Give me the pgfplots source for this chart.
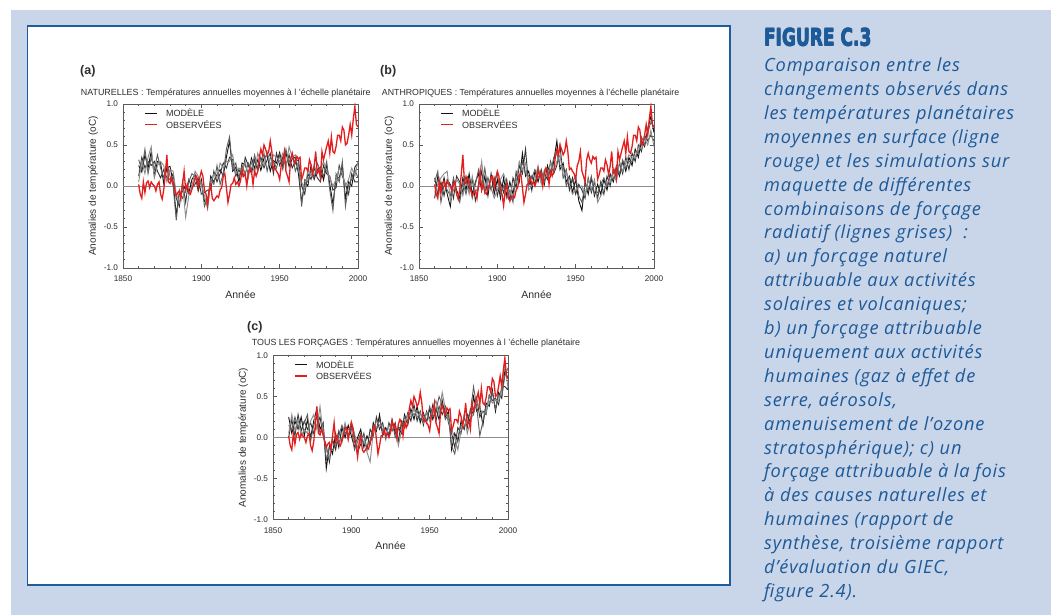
\documentclass[border=0pt]{standalone}
\usepackage{fontspec}
\setmainfont{Liberation Sans}
\newfontfamily\capfont{Open Sans}[LetterSpace=4.5]
\newfontfamily\figfont{DejaVu Sans}
\usepackage{graphicx}
\usepackage{pgfplots}
\pgfplotsset{compat=1.18}
\usepackage{pgfplotstable}

\definecolor{bgblue}{HTML}{C9D5E9}
\definecolor{frameblue}{HTML}{1F5C9E}
\definecolor{capblue}{HTML}{1D5A98}
\definecolor{obsred}{HTML}{E41E1E}
\definecolor{axgray}{HTML}{5A5A5A}
\definecolor{labgray}{HTML}{2E2E2E}
\definecolor{runA}{HTML}{111111}
\definecolor{runB}{HTML}{333333}
\definecolor{runC}{HTML}{5E5E5E}
\definecolor{runD}{HTML}{8A8A8A}

% observed annual anomalies (red line, same in the three panels)
\pgfplotstableread{
year val
1860 0.02
1861 -0.10
1862 -0.15
1863 0.05
1864 -0.08
1865 0.04
1866 0.06
1867 -0.02
1868 0.05
1869 0.02
1870 0.00
1871 -0.06
1872 0.02
1873 0.05
1874 -0.10
1875 -0.16
1876 -0.05
1877 0.15
1878 0.38
1879 0.05
1880 0.03
1881 0.10
1882 0.04
1883 -0.05
1884 -0.12
1885 -0.08
1886 -0.06
1887 -0.15
1888 0.02
1889 0.18
1890 -0.05
1891 0.02
1892 -0.08
1893 -0.10
1894 -0.04
1895 0.02
1896 0.10
1897 0.12
1898 -0.02
1899 0.10
1900 0.18
1901 0.12
1902 -0.05
1903 -0.10
1904 -0.24
1905 -0.06
1906 0.02
1907 -0.15
1908 -0.18
1909 -0.15
1910 -0.12
1911 -0.14
1912 -0.05
1913 -0.02
1914 0.12
1915 0.15
1916 -0.02
1917 -0.20
1918 -0.10
1919 0.02
1920 0.03
1921 0.10
1922 0.02
1923 0.05
1924 0.00
1925 0.06
1926 0.20
1927 0.12
1928 0.15
1929 0.00
1930 0.16
1931 0.22
1932 0.18
1933 0.02
1934 0.18
1935 0.12
1936 0.18
1937 0.35
1938 0.45
1939 0.38
1940 0.50
1941 0.45
1942 0.38
1943 0.42
1944 0.55
1945 0.42
1946 0.20
1947 0.22
1948 0.18
1949 0.15
1950 0.08
1951 0.25
1952 0.30
1953 0.42
1954 0.18
1955 0.12
1956 0.05
1957 0.32
1958 0.40
1959 0.32
1960 0.28
1961 0.36
1962 0.33
1963 0.35
1964 0.08
1965 0.14
1966 0.22
1967 0.22
1968 0.18
1969 0.32
1970 0.26
1971 0.14
1972 0.24
1973 0.42
1974 0.16
1975 0.20
1976 0.10
1977 0.42
1978 0.32
1979 0.40
1980 0.48
1981 0.55
1982 0.40
1983 0.60
1984 0.42
1985 0.40
1986 0.48
1987 0.62
1988 0.62
1989 0.55
1990 0.72
1991 0.68
1992 0.50
1993 0.52
1994 0.62
1995 0.75
1996 0.62
1997 0.82
1998 0.97
1999 0.75
2000 0.72
}\obs

% model runs, natural forcing
\pgfplotstableread{
year r1 r2 r3 r4
1860 0.25 0.12 0.32 0.05
1862 0.17 0.35 0.20 0.30
1864 0.38 0.22 0.45 0.15
1866 0.22 0.30 0.15 0.35
1868 0.42 0.25 0.35 0.48
1870 0.12 0.30 0.20 0.10
1872 0.30 0.18 0.38 0.25
1874 0.28 0.10 0.22 0.30
1876 0.03 0.20 0.10 0.25
1878 0.22 0.10 0.28 0.05
1880 0.24 0.08 0.12 0.20
1882 0.04 0.15 0.00 0.18
1884 -0.35 -0.15 -0.42 -0.10
1886 -0.08 -0.25 -0.05 -0.20
1888 -0.07 0.05 -0.15 0.02
1890 0.01 -0.20 -0.05 -0.38
1892 -0.09 0.08 0.05 -0.12
1894 0.08 -0.02 0.15 0.00
1896 0.14 0.02 0.12 0.18
1898 -0.06 0.10 0.00 0.12
1900 0.08 -0.10 0.05 0.02
1902 -0.19 -0.08 -0.25 -0.12
1904 -0.22 -0.05 -0.15 -0.28
1906 0.12 -0.05 0.08 0.05
1908 0.05 0.18 0.02 0.15
1910 0.14 0.05 0.25 0.10
1912 0.20 0.15 0.02 0.28
1914 0.12 0.28 0.15 0.22
1916 0.35 0.22 0.45 0.30
1918 0.55 0.35 0.60 0.30
1920 0.18 0.32 0.20 0.38
1922 0.23 0.12 0.28 0.15
1924 0.05 0.20 0.10 0.22
1926 0.28 0.12 0.25 0.18
1928 0.26 0.35 0.15 0.30
1930 0.14 0.25 0.28 0.10
1932 0.34 0.15 0.20 0.30
1934 0.22 0.32 0.38 0.15
1936 0.32 0.18 0.22 0.40
1938 0.19 0.35 0.25 0.30
1940 0.34 0.22 0.40 0.25
1942 0.38 0.32 0.18 0.42
1944 0.18 0.40 0.35 0.25
1946 0.31 0.15 0.30 0.38
1948 0.28 0.40 0.22 0.35
1950 0.41 0.25 0.38 0.30
1952 0.23 0.35 0.20 0.40
1954 0.41 0.25 0.45 0.22
1956 0.24 0.38 0.28 0.48
1958 0.33 0.22 0.40 0.35
1960 0.35 0.30 0.18 0.38
1962 0.15 0.32 0.28 0.20
1964 -0.20 0.00 -0.25 0.05
1966 0.05 -0.10 0.08 -0.05
1968 0.00 0.15 0.05 0.20
1970 0.25 0.08 0.20 0.12
1972 0.08 0.22 0.10 0.25
1974 0.20 0.10 0.28 0.15
1976 0.23 0.05 0.18 0.20
1978 0.07 0.25 0.12 0.30
1980 0.26 0.15 0.30 0.18
1982 0.02 0.12 -0.05 0.10
1984 -0.22 -0.05 -0.30 0.00
1986 0.10 -0.02 0.15 0.08
1988 0.10 0.25 0.05 0.22
1990 0.25 0.12 0.30 0.15
1992 -0.15 0.02 -0.25 0.00
1994 0.05 -0.10 0.02 0.08
1996 0.00 0.15 0.08 0.22
1998 0.23 0.05 0.20 0.12
2000 0.28 0.05 0.10 0.30
}\nat

% model runs, anthropogenic forcing
\pgfplotstableread{
year r1 r2 r3 r4
1860 -0.15 0.10 0.05 -0.08
1862 0.12 -0.10 0.18 0.02
1864 -0.08 0.05 -0.20 0.10
1866 0.10 -0.12 0.02 0.15
1868 -0.10 0.08 -0.05 0.18
1870 -0.25 0.02 -0.12 -0.18
1872 0.08 -0.15 0.10 -0.05
1874 -0.05 0.12 -0.10 0.08
1876 -0.15 0.05 -0.20 0.02
1878 0.10 -0.08 0.05 -0.12
1880 -0.05 0.12 -0.10 0.08
1882 0.15 -0.05 0.08 -0.10
1884 -0.10 0.08 -0.15 0.12
1886 0.05 -0.18 0.02 -0.08
1888 0.15 -0.02 0.20 0.00
1890 -0.05 0.18 0.00 0.30
1892 0.12 -0.08 0.22 -0.05
1894 -0.12 0.10 -0.05 0.08
1896 0.15 -0.05 0.12 -0.02
1898 -0.10 0.10 0.05 -0.15
1900 0.08 -0.12 0.15 -0.05
1902 -0.15 0.05 -0.10 0.08
1904 0.10 -0.08 0.00 0.15
1906 -0.12 0.08 -0.15 0.02
1908 0.05 -0.18 -0.05 -0.12
1910 -0.10 0.10 -0.20 0.05
1912 0.15 -0.02 0.18 0.05
1914 0.05 0.25 0.10 0.30
1916 0.40 0.15 0.30 0.20
1918 0.12 0.45 0.15 0.28
1920 0.18 0.00 0.12 -0.05
1922 -0.05 0.12 0.10 0.00
1924 0.18 0.02 0.20 0.08
1926 0.05 0.22 0.10 0.25
1928 0.20 0.08 0.18 0.02
1930 0.02 0.15 0.05 0.20
1932 0.25 0.08 0.20 0.12
1934 0.12 0.30 0.15 0.28
1936 0.30 0.15 0.35 0.18
1938 0.55 0.25 0.40 0.30
1940 0.20 0.50 0.25 0.38
1942 0.28 0.10 0.25 0.12
1944 0.05 0.20 0.00 0.18
1946 0.12 -0.05 0.10 0.02
1948 -0.08 0.10 0.05 -0.10
1950 0.08 -0.10 0.12 -0.05
1952 -0.18 0.02 -0.12 -0.02
1954 -0.30 -0.05 -0.20 0.00
1956 0.05 -0.15 0.02 -0.12
1958 -0.10 0.10 -0.05 0.08
1960 0.10 -0.08 0.12 -0.05
1962 -0.12 0.05 -0.10 0.08
1964 0.02 -0.15 -0.08 -0.20
1966 -0.10 0.05 0.02 -0.12
1968 0.08 -0.10 0.10 -0.05
1970 -0.05 0.12 0.00 0.05
1972 0.15 0.00 0.12 0.05
1974 0.05 0.20 0.08 0.18
1976 0.22 0.10 0.25 0.05
1978 0.12 0.28 0.15 0.30
1980 0.30 0.15 0.32 0.18
1982 0.18 0.35 0.22 0.28
1984 0.35 0.20 0.30 0.38
1986 0.25 0.40 0.30 0.35
1988 0.45 0.30 0.42 0.35
1990 0.35 0.50 0.40 0.48
1992 0.55 0.42 0.60 0.45
1994 0.48 0.62 0.50 0.58
1996 0.70 0.55 0.65 0.50
1998 0.85 0.62 0.78 0.68
2000 0.65 0.55 0.72 0.48
}\ant

% model runs, all forcings
\pgfplotstableread{
year r1 r2 r3 r4
1860 0.25 0.00 0.15 0.05
1862 0.05 0.22 0.10 0.28
1864 0.20 0.02 0.25 0.08
1866 0.10 0.28 0.12 0.22
1868 0.25 0.08 0.20 0.02
1870 0.02 0.20 0.18 0.10
1872 0.22 0.10 0.28 0.05
1874 0.00 0.18 -0.05 0.20
1876 0.20 0.05 0.15 0.28
1878 0.35 0.15 0.25 0.10
1880 0.10 0.25 0.05 0.38
1882 0.18 0.02 0.15 0.05
1884 -0.38 -0.10 -0.28 -0.15
1886 -0.10 -0.30 -0.12 -0.25
1888 -0.20 -0.02 -0.15 0.00
1890 0.05 -0.15 -0.10 0.02
1892 -0.12 0.08 0.02 -0.08
1894 0.12 -0.05 0.15 0.00
1896 0.00 0.15 0.05 0.18
1898 0.15 -0.02 0.10 0.00
1900 0.02 0.15 0.12 0.20
1902 -0.12 0.02 -0.15 0.05
1904 0.00 -0.18 -0.05 -0.12
1906 0.10 -0.08 0.05 -0.05
1908 -0.12 0.05 -0.08 0.02
1910 0.02 -0.15 -0.10 -0.18
1912 -0.08 0.10 -0.05 -0.30
1914 0.18 0.02 0.15 0.08
1916 0.08 0.25 0.10 0.20
1918 0.28 0.10 0.22 0.15
1920 0.02 0.18 0.08 0.15
1922 0.12 -0.02 0.10 0.00
1924 0.02 0.18 0.05 0.15
1926 0.22 0.08 0.20 0.10
1928 0.05 0.18 0.00 0.15
1930 0.12 -0.05 0.10 -0.10
1932 0.05 0.20 0.15 0.08
1934 0.28 0.12 0.25 0.15
1936 0.15 0.30 0.20 0.28
1938 0.35 0.20 0.32 0.25
1940 0.22 0.40 0.28 0.35
1942 0.38 0.20 0.32 0.25
1944 0.18 0.32 0.22 0.30
1946 0.30 0.15 0.28 0.18
1948 0.18 0.32 0.20 0.30
1950 0.35 0.22 0.38 0.20
1952 0.22 0.40 0.25 0.35
1954 0.35 0.20 0.32 0.45
1956 0.22 0.38 0.50 0.28
1958 0.45 0.28 0.40 0.55
1960 0.25 0.38 0.22 0.35
1962 0.32 0.18 0.28 0.20
1964 -0.15 0.05 -0.10 0.10
1966 0.05 -0.12 -0.20 0.00
1968 -0.05 0.12 0.00 -0.15
1970 0.20 0.05 0.15 0.08
1972 0.10 0.25 0.12 0.28
1974 0.28 0.12 0.25 0.05
1976 0.18 0.35 0.30 0.20
1978 0.50 0.28 0.62 0.30
1980 0.32 0.48 0.38 0.45
1982 0.38 0.25 0.02 0.35
1984 0.15 0.32 0.20 0.30
1986 0.42 0.28 0.38 0.30
1988 0.38 0.52 0.40 0.50
1990 0.58 0.45 0.55 0.42
1992 0.32 0.48 0.35 0.45
1994 0.55 0.40 0.52 0.45
1996 0.48 0.62 0.50 0.58
1998 0.82 0.62 0.75 0.90
2000 0.72 0.58 0.85 0.60
}\all

\pgfplotsset{
  panel/.style={
    scale only axis, width=235pt, height=164pt, anchor=south west,
    xmin=1850, xmax=2000, ymin=-1, ymax=1,
    xtick={1850,1900,1950,2000}, xticklabels={1850,1900,1950,2000},
    ytick={-1,-0.5,0,0.5,1}, yticklabels={-1.0,-0.5,0.0,0.5,1.0},
    minor x tick num=4, minor y tick num=4,
    tick align=inside, major tick length=4pt, minor tick length=2pt,
    axis line style={draw=axgray, line width=0.8pt},
    tick style={draw=axgray, line width=0.6pt},
    ticklabel style={font=\fontsize{8.2}{9}\selectfont, text=labgray},
    xticklabel style={yshift=-4.5pt},
    yticklabel style={xshift=-1.5pt},
    xlabel={Année}, ylabel={Anomalies de température (oC)},
    every axis x label/.style={at={(axis description cs:0.5,-0.16)}, anchor=center,
      font=\fontsize{10.5}{11}\selectfont, text=labgray},
    every axis y label/.style={at={(axis description cs:-0.127,0.5)}, anchor=center,
      rotate=90, font=\fontsize{10}{11}\selectfont, text=labgray},
    % key drawn at the top left of each panel
    after end axis/.code={
      \draw[color=runA, line width=0.9pt] (rel axis cs:0.094,0.945) -- (rel axis cs:0.145,0.945);
      \draw[color=obsred, line width=1.5pt] (rel axis cs:0.094,0.876) -- (rel axis cs:0.145,0.876);
      \node[anchor=west, inner sep=0, font=\fontsize{9}{10}\selectfont, text=labgray]
        at (rel axis cs:0.183,0.945) {MODÈLE};
      \node[anchor=west, inner sep=0, font=\fontsize{9}{10}\selectfont, text=labgray]
        at (rel axis cs:0.183,0.876) {OBSERVÉES};
    },
  },
  model/.style={line width=0.9pt, forget plot},
  obs/.style={draw=obsred, line width=1.3pt, forget plot},
  zero/.style={draw=gray!90, line width=0.6pt, forget plot},
}

\begin{document}
\begin{tikzpicture}
\useasboundingbox (0,0) rectangle (1055pt,615pt);
\fill[white] (0,0) rectangle (1055pt,615pt);
\fill[bgblue] (11pt,0) rectangle (1051pt,605pt);
\draw[frameblue, line width=1.5pt, fill=white] (27.5pt,30pt) rectangle (730pt,589pt);

% caption title, set a few times with small shifts to make it heavier
\foreach \dx/\dy in {0/0, 0.5/0, 0/0.4, 0.5/0.4}{
  \node[anchor=base west, inner sep=0, text=capblue] at ({763.6pt+\dx pt},{568.8pt+\dy pt})
    {\resizebox{107.5pt}{17.6pt}{\figfont\bfseries FIGURE C.3}};
}
\foreach \t [count=\i from 0] in {
  {Comparaison entre les},
  {changements observés dans},
  {les températures planétaires},
  {moyennes en surface (ligne},
  {rouge) et les simulations sur},
  {maquette de différentes},
  {combinaisons de forçage},
  {radiatif (lignes grises)~ :},
  {a) un forçage naturel},
  {attribuable aux activités},
  {solaires et volcaniques;},
  {b) un forçage attribuable},
  {uniquement aux activités},
  {humaines (gaz à effet de},
  {serre, aérosols,},
  {amenuisement de l’ozone},
  {stratosphérique); c) un},
  {forçage attribuable à la fois},
  {à des causes naturelles et},
  {humaines (rapport de},
  {synthèse, troisième rapport},
  {d’évaluation du GIEC,},
  {figure 2.4).}}
{
  \node[anchor=base west, inner sep=0, text=capblue,
        font=\capfont\itshape\fontsize{18.2}{20}\selectfont]
    at (764pt, {543.3pt-\i*23.9pt}) {\t};
}

% panel (a)
\node[anchor=west, inner sep=0, font=\bfseries\fontsize{12.5}{13}\selectfont, text=labgray] at (80pt,544pt) {(a)};
\node[anchor=base west, inner sep=0, font=\fontsize{8.9}{10}\selectfont, text=labgray] at (80.7pt,519.3pt)
  {NATURELLES : Températures annuelles moyennes à l 'échelle planétaire};
\begin{axis}[panel, at={(123pt,347pt)}]
\addplot[zero] coordinates {(1850,0) (2000,0)};
\addplot[runA, model] table[x=year, y=r1] {\nat};
\addplot[runB, model] table[x=year, y=r2] {\nat};
\addplot[runC, model] table[x=year, y=r3] {\nat};
\addplot[runD, model] table[x=year, y=r4] {\nat};
\addplot[obs] table[x=year, y=val] {\obs};
\end{axis}

% panel (b)
\node[anchor=west, inner sep=0, font=\bfseries\fontsize{12.5}{13}\selectfont, text=labgray] at (380pt,544pt) {(b)};
\node[anchor=base west, inner sep=0, font=\fontsize{8.8}{10}\selectfont, text=labgray] at (381.7pt,519.3pt)
  {ANTHROPIQUES : Températures annuelles moyennes à l'échelle planétaire};
\begin{axis}[panel, at={(419pt,347pt)}]
\addplot[zero] coordinates {(1850,0) (2000,0)};
\addplot[runA, model] table[x=year, y=r1] {\ant};
\addplot[runB, model] table[x=year, y=r2] {\ant};
\addplot[runC, model] table[x=year, y=r3] {\ant};
\addplot[runD, model] table[x=year, y=r4] {\ant};
\addplot[obs] table[x=year, y=val] {\obs};
\end{axis}

% panel (c)
\node[anchor=west, inner sep=0, font=\bfseries\fontsize{12.5}{13}\selectfont, text=labgray] at (247pt,287.5pt) {(c)};
\node[anchor=base west, inner sep=0, font=\fontsize{8.9}{10}\selectfont, text=labgray] at (251.7pt,269.3pt)
  {TOUS LES FORÇAGES : Températures annuelles moyennes à l 'échelle planétaire};
\begin{axis}[panel, at={(273pt,95.5pt)}]
\addplot[zero] coordinates {(1850,0) (2000,0)};
\addplot[runA, model] table[x=year, y=r1] {\all};
\addplot[runB, model] table[x=year, y=r2] {\all};
\addplot[runC, model] table[x=year, y=r3] {\all};
\addplot[runD, model] table[x=year, y=r4] {\all};
\addplot[obs] table[x=year, y=val] {\obs};
\end{axis}
\end{tikzpicture}
\end{document}
